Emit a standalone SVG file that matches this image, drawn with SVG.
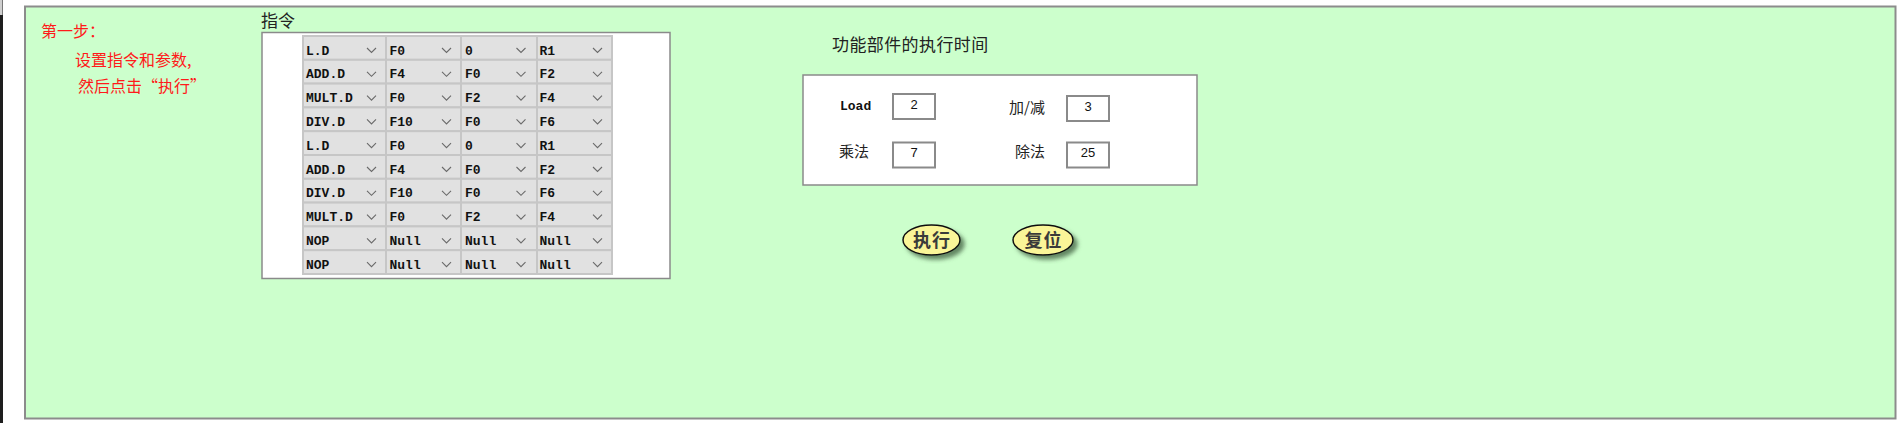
<svg xmlns="http://www.w3.org/2000/svg" xmlns:xlink="http://www.w3.org/1999/xlink" width="1898" height="423" viewBox="0 0 1898 423">
<style>
.red{font-family:"Noto Sans CJK SC",sans-serif;font-size:16px;fill:#ff1a1a}
.lbl{font-family:"Noto Sans CJK SC",sans-serif;fill:#222}
.cell{fill:#e1e1e1;stroke:#c6c6c6;stroke-width:2}
.ct{font-family:"Liberation Mono",monospace;font-size:13px;font-weight:bold;fill:#111}
.box{fill:#fff;stroke:#8a8a8a;stroke-width:1.5}
.inp{fill:#fff;stroke:#8a8a8a;stroke-width:2}
.num{font-family:"Liberation Sans",sans-serif;font-size:13px;fill:#111;text-anchor:middle}
.btn{fill:#faf598;stroke:#111;stroke-width:1.5}
.bt{font-family:"Noto Sans CJK SC",sans-serif;font-size:18px;font-weight:bold;fill:#3a3a3a;text-anchor:middle;letter-spacing:1px}
</style>
<defs>
<path id="chev" d="M -4.5 -2.5 L 0 2 L 4.5 -2.5" fill="none" stroke="#6a6a6a" stroke-width="1.1"/>
<filter id="sh" x="-30%" y="-30%" width="160%" height="160%">
<feDropShadow dx="4" dy="4" stdDeviation="2" flood-color="#3f5f3f" flood-opacity="0.75"/>
</filter>
</defs>
<rect x="0" y="0" width="1898" height="423" fill="#fff"/>
<rect x="0" y="0" width="3" height="423" fill="#1e1e1e"/>
<rect x="0" y="0" width="2.5" height="15" fill="#cfcfcf"/>
<g id="panel">
<rect x="25" y="6.5" width="1870.5" height="412" fill="#ccffcc" stroke="#8c8c8c" stroke-width="2"/>
</g>
<g id="step-text">
<text class="red" x="41" y="37">第一步：</text>
<text class="red" x="75" y="66">设置指令和参数,</text>
<text class="red" x="78" y="92">然后点击“执行”</text>
</g>
<g id="instructions">
<text class="lbl" x="261" y="27" font-size="17">指令</text>
<rect class="box" x="262" y="32.5" width="408" height="246"/>
<g transform="translate(0,36)">
<rect class="cell" x="303" y="0" width="83" height="23.8"/><rect class="cell" x="386" y="0" width="75" height="23.8"/><rect class="cell" x="461" y="0" width="76" height="23.8"/><rect class="cell" x="537" y="0" width="75" height="23.8"/>
<text class="ct" x="306" y="18.5">L.D</text><text class="ct" x="389.5" y="18.5">F0</text><text class="ct" x="465" y="18.5">0</text><text class="ct" x="539.5" y="18.5">R1</text>
<use xlink:href="#chev" x="371.5" y="14.5"/><use xlink:href="#chev" x="446.5" y="14.5"/><use xlink:href="#chev" x="521" y="14.5"/><use xlink:href="#chev" x="597.5" y="14.5"/>
</g>
<g transform="translate(0,59.8)">
<rect class="cell" x="303" y="0" width="83" height="23.8"/><rect class="cell" x="386" y="0" width="75" height="23.8"/><rect class="cell" x="461" y="0" width="76" height="23.8"/><rect class="cell" x="537" y="0" width="75" height="23.8"/>
<text class="ct" x="306" y="18.5">ADD.D</text><text class="ct" x="389.5" y="18.5">F4</text><text class="ct" x="465" y="18.5">F0</text><text class="ct" x="539.5" y="18.5">F2</text>
<use xlink:href="#chev" x="371.5" y="14.5"/><use xlink:href="#chev" x="446.5" y="14.5"/><use xlink:href="#chev" x="521" y="14.5"/><use xlink:href="#chev" x="597.5" y="14.5"/>
</g>
<g transform="translate(0,83.6)">
<rect class="cell" x="303" y="0" width="83" height="23.8"/><rect class="cell" x="386" y="0" width="75" height="23.8"/><rect class="cell" x="461" y="0" width="76" height="23.8"/><rect class="cell" x="537" y="0" width="75" height="23.8"/>
<text class="ct" x="306" y="18.5">MULT.D</text><text class="ct" x="389.5" y="18.5">F0</text><text class="ct" x="465" y="18.5">F2</text><text class="ct" x="539.5" y="18.5">F4</text>
<use xlink:href="#chev" x="371.5" y="14.5"/><use xlink:href="#chev" x="446.5" y="14.5"/><use xlink:href="#chev" x="521" y="14.5"/><use xlink:href="#chev" x="597.5" y="14.5"/>
</g>
<g transform="translate(0,107.4)">
<rect class="cell" x="303" y="0" width="83" height="23.8"/><rect class="cell" x="386" y="0" width="75" height="23.8"/><rect class="cell" x="461" y="0" width="76" height="23.8"/><rect class="cell" x="537" y="0" width="75" height="23.8"/>
<text class="ct" x="306" y="18.5">DIV.D</text><text class="ct" x="389.5" y="18.5">F10</text><text class="ct" x="465" y="18.5">F0</text><text class="ct" x="539.5" y="18.5">F6</text>
<use xlink:href="#chev" x="371.5" y="14.5"/><use xlink:href="#chev" x="446.5" y="14.5"/><use xlink:href="#chev" x="521" y="14.5"/><use xlink:href="#chev" x="597.5" y="14.5"/>
</g>
<g transform="translate(0,131.2)">
<rect class="cell" x="303" y="0" width="83" height="23.8"/><rect class="cell" x="386" y="0" width="75" height="23.8"/><rect class="cell" x="461" y="0" width="76" height="23.8"/><rect class="cell" x="537" y="0" width="75" height="23.8"/>
<text class="ct" x="306" y="18.5">L.D</text><text class="ct" x="389.5" y="18.5">F0</text><text class="ct" x="465" y="18.5">0</text><text class="ct" x="539.5" y="18.5">R1</text>
<use xlink:href="#chev" x="371.5" y="14.5"/><use xlink:href="#chev" x="446.5" y="14.5"/><use xlink:href="#chev" x="521" y="14.5"/><use xlink:href="#chev" x="597.5" y="14.5"/>
</g>
<g transform="translate(0,155)">
<rect class="cell" x="303" y="0" width="83" height="23.8"/><rect class="cell" x="386" y="0" width="75" height="23.8"/><rect class="cell" x="461" y="0" width="76" height="23.8"/><rect class="cell" x="537" y="0" width="75" height="23.8"/>
<text class="ct" x="306" y="18.5">ADD.D</text><text class="ct" x="389.5" y="18.5">F4</text><text class="ct" x="465" y="18.5">F0</text><text class="ct" x="539.5" y="18.5">F2</text>
<use xlink:href="#chev" x="371.5" y="14.5"/><use xlink:href="#chev" x="446.5" y="14.5"/><use xlink:href="#chev" x="521" y="14.5"/><use xlink:href="#chev" x="597.5" y="14.5"/>
</g>
<g transform="translate(0,178.8)">
<rect class="cell" x="303" y="0" width="83" height="23.8"/><rect class="cell" x="386" y="0" width="75" height="23.8"/><rect class="cell" x="461" y="0" width="76" height="23.8"/><rect class="cell" x="537" y="0" width="75" height="23.8"/>
<text class="ct" x="306" y="18.5">DIV.D</text><text class="ct" x="389.5" y="18.5">F10</text><text class="ct" x="465" y="18.5">F0</text><text class="ct" x="539.5" y="18.5">F6</text>
<use xlink:href="#chev" x="371.5" y="14.5"/><use xlink:href="#chev" x="446.5" y="14.5"/><use xlink:href="#chev" x="521" y="14.5"/><use xlink:href="#chev" x="597.5" y="14.5"/>
</g>
<g transform="translate(0,202.6)">
<rect class="cell" x="303" y="0" width="83" height="23.8"/><rect class="cell" x="386" y="0" width="75" height="23.8"/><rect class="cell" x="461" y="0" width="76" height="23.8"/><rect class="cell" x="537" y="0" width="75" height="23.8"/>
<text class="ct" x="306" y="18.5">MULT.D</text><text class="ct" x="389.5" y="18.5">F0</text><text class="ct" x="465" y="18.5">F2</text><text class="ct" x="539.5" y="18.5">F4</text>
<use xlink:href="#chev" x="371.5" y="14.5"/><use xlink:href="#chev" x="446.5" y="14.5"/><use xlink:href="#chev" x="521" y="14.5"/><use xlink:href="#chev" x="597.5" y="14.5"/>
</g>
<g transform="translate(0,226.4)">
<rect class="cell" x="303" y="0" width="83" height="23.8"/><rect class="cell" x="386" y="0" width="75" height="23.8"/><rect class="cell" x="461" y="0" width="76" height="23.8"/><rect class="cell" x="537" y="0" width="75" height="23.8"/>
<text class="ct" x="306" y="18.5">NOP</text><text class="ct" x="389.5" y="18.5">Null</text><text class="ct" x="465" y="18.5">Null</text><text class="ct" x="539.5" y="18.5">Null</text>
<use xlink:href="#chev" x="371.5" y="14.5"/><use xlink:href="#chev" x="446.5" y="14.5"/><use xlink:href="#chev" x="521" y="14.5"/><use xlink:href="#chev" x="597.5" y="14.5"/>
</g>
<g transform="translate(0,250.2)">
<rect class="cell" x="303" y="0" width="83" height="23.8"/><rect class="cell" x="386" y="0" width="75" height="23.8"/><rect class="cell" x="461" y="0" width="76" height="23.8"/><rect class="cell" x="537" y="0" width="75" height="23.8"/>
<text class="ct" x="306" y="18.5">NOP</text><text class="ct" x="389.5" y="18.5">Null</text><text class="ct" x="465" y="18.5">Null</text><text class="ct" x="539.5" y="18.5">Null</text>
<use xlink:href="#chev" x="371.5" y="14.5"/><use xlink:href="#chev" x="446.5" y="14.5"/><use xlink:href="#chev" x="521" y="14.5"/><use xlink:href="#chev" x="597.5" y="14.5"/>
</g>
</g>
<g id="timing">
<text class="lbl" x="832" y="51" font-size="17" letter-spacing="0.4">功能部件的执行时间</text>
<rect class="box" x="803" y="75" width="394" height="110"/>
<text x="840" y="110" font-family="Liberation Mono, monospace" font-size="13" font-weight="bold" fill="#111">Load</text>
<rect class="inp" x="893" y="94" width="42" height="25"/>
<text class="num" x="914" y="108.5">2</text>
<text class="lbl" x="1009" y="113" font-size="15">加/减</text>
<rect class="inp" x="1067" y="96" width="42" height="25"/>
<text class="num" x="1088" y="111">3</text>
<text class="lbl" x="839" y="157" font-size="15">乘法</text>
<rect class="inp" x="893" y="142.5" width="42" height="25"/>
<text class="num" x="914" y="157">7</text>
<text class="lbl" x="1015" y="157" font-size="15">除法</text>
<rect class="inp" x="1067" y="142.5" width="42" height="25"/>
<text class="num" x="1088" y="157">25</text>
</g>
<g id="btn-exec">
<ellipse class="btn" cx="931.5" cy="240" rx="28.5" ry="15" filter="url(#sh)"/>
<text class="bt" x="932" y="247">执行</text>
</g>
<g id="btn-reset">
<ellipse class="btn" cx="1043" cy="240" rx="30" ry="15" filter="url(#sh)"/>
<text class="bt" x="1043.5" y="247">复位</text>
</g>
<g id="connectors"/>
</svg>
